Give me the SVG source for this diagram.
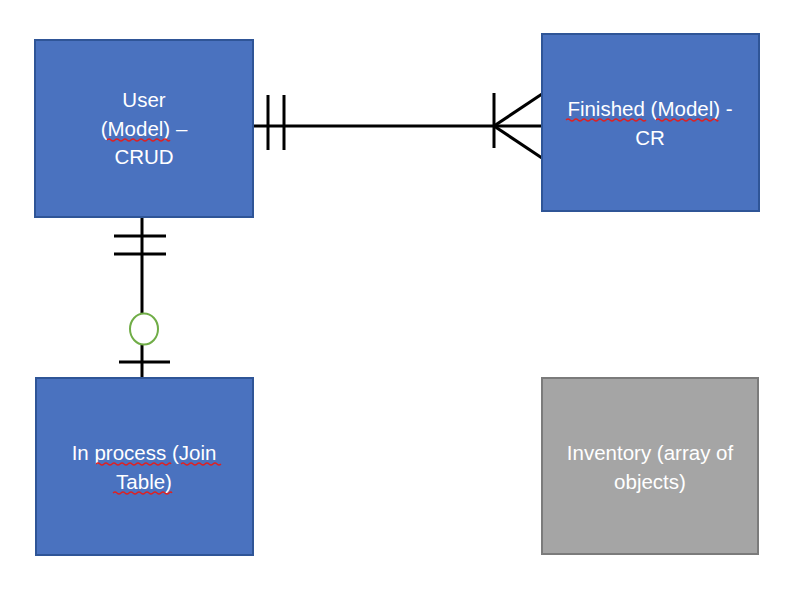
<svg xmlns="http://www.w3.org/2000/svg" width="804" height="596" viewBox="0 0 804 596">
<defs>
<style>
.box{fill:#4A72BF;stroke:#2F5597;stroke-width:2}
.gray{fill:#A5A5A5;stroke:#7B7B7B;stroke-width:2}
.lbl{font-family:"Liberation Sans",Arial,sans-serif;font-size:20.5px;fill:#fff;text-anchor:middle}
.ln{stroke:#000;stroke-width:3;fill:none}
.sq{stroke:#E02020;stroke-width:1.3;fill:none}
</style>
</defs>
<rect width="804" height="596" fill="#fff"/>
<g id="connectors">
<line class="ln" x1="253" y1="126" x2="542" y2="126"/>
<line class="ln" x1="268" y1="95" x2="268" y2="150"/>
<line class="ln" x1="284" y1="95" x2="284" y2="150"/>
<line class="ln" x1="494" y1="93" x2="494" y2="148"/>
<line class="ln" x1="494" y1="126" x2="542" y2="94"/>
<line class="ln" x1="494" y1="126" x2="542" y2="158"/>
<line class="ln" x1="142" y1="217" x2="142" y2="378"/>
<line class="ln" x1="114" y1="236" x2="166" y2="236"/>
<line class="ln" x1="114" y1="254" x2="166" y2="254"/>
<line class="ln" x1="119" y1="362" x2="170" y2="362"/>
<ellipse cx="144" cy="329" rx="14" ry="15.5" fill="#fff" stroke="#70AD47" stroke-width="2"/>
</g>
<g id="user">
<rect class="box" x="35" y="40" width="218" height="177"/>
<text class="lbl" x="144" y="107">User</text>
<text class="lbl" x="144" y="136">(Model) –</text>
<text class="lbl" x="144" y="164">CRUD</text>
<path class="sq" d="M107 140 q2 -2 4 0 t4 0 t4 0 t4 0 t4 0 t4 0 t4 0 t4 0 t4 0 t4 0 t4 0 t4 0 t4 0 t4 0 t4 0 t3 0"/>
</g>
<g id="finished">
<rect class="box" x="542" y="34" width="217" height="177"/>
<text class="lbl" x="650" y="116">Finished (Model) -</text>
<text class="lbl" x="650" y="145">CR</text>
<path class="sq" d="M566 120 q2 -2 4 0 t4 0 t4 0 t4 0 t4 0 t4 0 t4 0 t4 0 t4 0 t4 0 t4 0 t4 0 t4 0 t4 0 t4 0 t4 0 t4 0 t4 0 t4 0 t4 0"/>
<path class="sq" d="M656 120 q2 -2 4 0 t4 0 t4 0 t4 0 t4 0 t4 0 t4 0 t4 0 t4 0 t4 0 t4 0 t4 0 t4 0 t4 0 t4 0 t2 0"/>
</g>
<g id="inprocess">
<rect class="box" x="36" y="378" width="217" height="177"/>
<text class="lbl" x="144" y="460">In process (Join</text>
<text class="lbl" x="144" y="489">Table)</text>
<path class="sq" d="M96 464 q2 -2 4 0 t4 0 t4 0 t4 0 t4 0 t4 0 t4 0 t4 0 t4 0 t4 0 t4 0 t4 0 t4 0 t4 0 t4 0 t4 0 t4 0 t4 0 t3 0"/>
<path class="sq" d="M181 464 q2 -2 4 0 t4 0 t4 0 t4 0 t4 0 t4 0 t4 0 t4 0 t4 0 t4 0"/>
<path class="sq" d="M113 493 q2 -2 4 0 t4 0 t4 0 t4 0 t4 0 t4 0 t4 0 t4 0 t4 0 t4 0 t4 0 t4 0 t4 0 t4 0 t3 0"/>
</g>
<g id="inventory">
<rect class="gray" x="542" y="378" width="216" height="176"/>
<text class="lbl" x="650" y="460">Inventory (array of</text>
<text class="lbl" x="650" y="489">objects)</text>
</g>
</svg>
